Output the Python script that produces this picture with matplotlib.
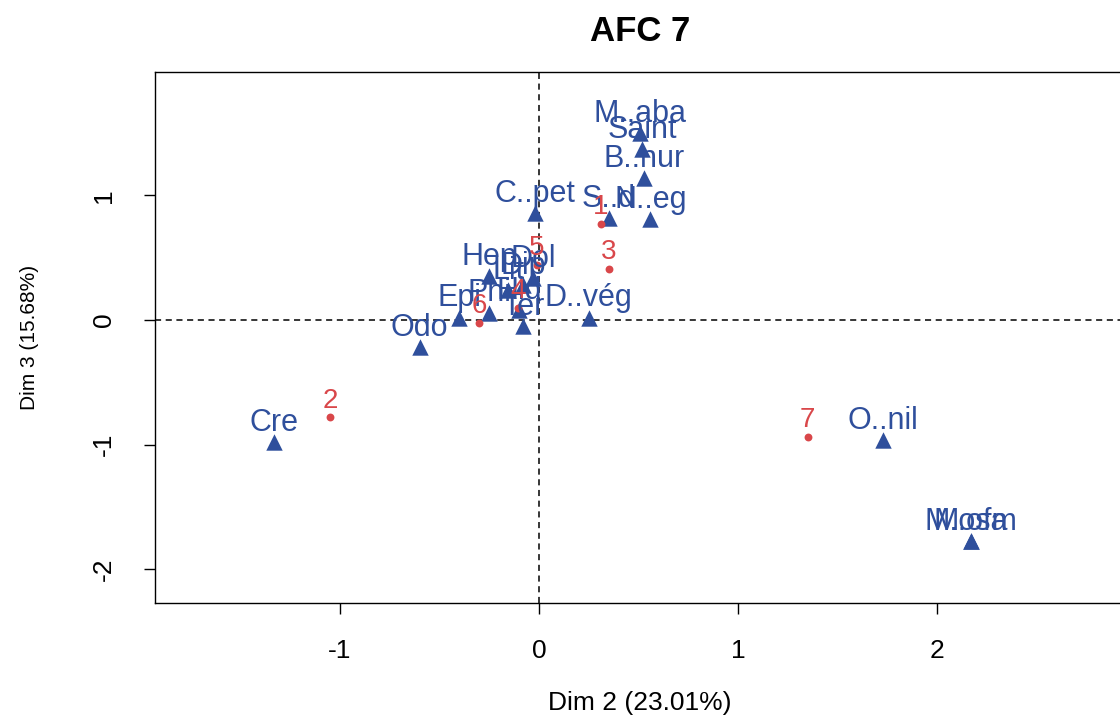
import matplotlib
matplotlib.use("Agg")
import matplotlib.pyplot as plt

plt.rcParams['font.family'] = ['Liberation Sans', 'DejaVu Sans']

# Row points (red)
row_labels = ["1", "2", "3", "4", "5", "6", "7"]
row_x = [0.31, -1.05, 0.35, -0.105, -0.01, -0.30, 1.35]
row_y = [0.77, -0.78, 0.41, 0.10, 0.44, -0.02, -0.94]

# Column points (blue)
col_labels = ["M..aba", "Saint", "B..nur", "C..pet", "S..d", "N..eg",
              "Hep", "Dol", "Lit", "Dip", "Epi", "Phi", "Hid", "D..vég",
              "Ter", "Odo", "Cre", "O..nil", "Mosa", "M..ofm"]
col_x = [0.51, 0.52, 0.53, -0.02, 0.35, 0.56,
         -0.25, -0.03, -0.155, -0.08, -0.40, -0.25, -0.10, 0.25,
         -0.08, -0.60, -1.33, 1.73, 2.17, 2.17]
col_y = [1.50, 1.37, 1.14, 0.86, 0.82, 0.81,
         0.35, 0.34, 0.24, 0.28, 0.02, 0.06, 0.08, 0.02,
         -0.05, -0.22, -0.98, -0.96, -1.77, -1.77]

x_ticks = [-1, 0, 1, 2]
y_ticks = [-2, -1, 0, 1]

blue = "#2f4f9c"
red = "#d9474a"

fig = plt.figure(figsize=(11.2, 7.18), dpi=100)
ax = fig.add_axes([155/1120, 115/718, 970/1120, 531/718])
ax.set_xlim(-1.93, 2.945)
ax.set_ylim(-2.27, 1.99)

ax.axhline(0, color="black", lw=1.1, ls=(0, (4, 3)), zorder=1)
ax.axvline(0, color="black", lw=1.1, ls=(0, (4, 3)), zorder=1)

ax.scatter(col_x, col_y, marker="^", s=140, color=blue, zorder=3, linewidths=0)
ax.scatter(row_x, row_y, marker="o", s=32, color=red, zorder=3, linewidths=0)

for lab, x, y in zip(col_labels, col_x, col_y):
    ax.annotate(lab, (x, y), xytext=(0, 8), textcoords="offset points",
                ha="center", va="baseline", color=blue, fontsize=22, zorder=4)
for lab, x, y in zip(row_labels, row_x, row_y):
    ax.annotate(lab, (x, y), xytext=(0, 7), textcoords="offset points",
                ha="center", va="baseline", color=red, fontsize=20, zorder=4)

ax.set_xticks(x_ticks)
ax.set_yticks(y_ticks)
ax.set_xticklabels([str(t) for t in x_ticks], fontsize=19)
ax.set_yticklabels([str(t) for t in y_ticks], fontsize=19, rotation=90, va="center")
ax.tick_params(length=8, width=1, pad=18)
ax.tick_params(axis="y", pad=20)
for s in ax.spines.values():
    s.set_linewidth(1.0)

ax.set_xlabel("Dim 2 (23.01%)", fontsize=19, labelpad=20)
ax.set_ylabel("Dim 3 (15.68%)", fontsize=15, labelpad=38)
ax.set_title("AFC 7", fontsize=25, fontweight="bold", pad=22)

fig.savefig("out.png", dpi=100)
